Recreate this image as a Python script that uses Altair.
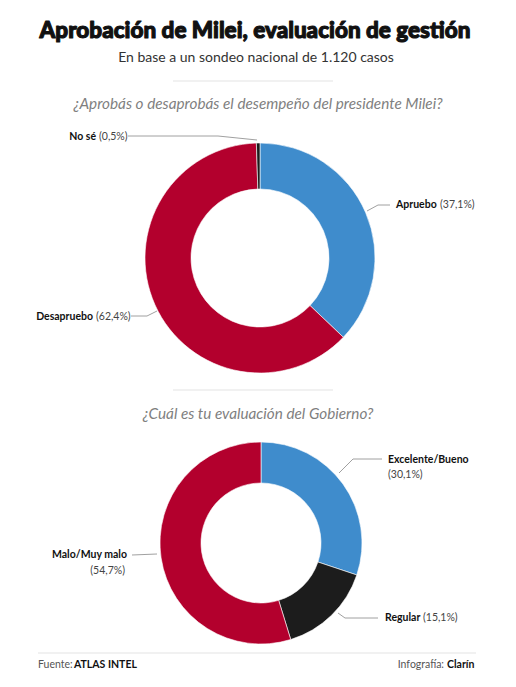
import altair as alt
import pandas as pd

# ---- data ----
cat1 = ["Apruebo", "Desapruebo", "No sé"]
val1 = [37.1, 62.4, 0.5]
cat2 = ["Excelente/Bueno", "Regular", "Malo/Muy malo"]
val2 = [30.1, 15.1, 54.7]

title = "Aprobación de Milei, evaluación de gestión"
subtitle = "En base a un sondeo nacional de 1.120 casos"
q1 = "¿Aprobás o desaprobás el desempeño del presidente Milei?"
q2 = "¿Cuál es tu evaluación del Gobierno?"
source_lbl = ["Fuente:", "ATLAS INTEL"]
credit_lbl = ["Infografía:", "Clarín"]

BLUE = "#3f8ccc"
RED = "#b3002d"
BLACK = "#1c1c1c"
FONT = "Lato"


def P(v):
    # page pixel -> view pixel (8px page margin, no padding)
    return v - 8


def pct(v):
    return f"({v:.1f}%)".replace(".", ",")


df1 = pd.DataFrame({"cat": cat1, "val": val1, "ord": range(len(cat1))})
df2 = pd.DataFrame({"cat": cat2, "val": val2, "ord": range(len(cat2))})

one = alt.Data(values=[{"a": 1}])


def txt(s, x, y, size=10.5, weight="normal", color="#222", align="left",
        style="normal", baseline="middle", font=FONT, **kw):
    return alt.Chart(one).mark_text(
        text=s, font=font, fontSize=size, fontWeight=weight, color=color,
        align=align, baseline=baseline, fontStyle=style, **kw
    ).encode(x=alt.value(P(x)), y=alt.value(P(y)))


def rule(x1, y1, x2, y2, color="#888", w=0.8):
    return alt.Chart(one).mark_rule(color=color, strokeWidth=w).encode(
        x=alt.value(P(x1)), y=alt.value(P(y1)),
        x2=alt.value(P(x2)), y2=alt.value(P(y2)))


donut1 = alt.Chart(df1).mark_arc(
    radius=115, innerRadius=69, stroke="white", strokeWidth=0.6
).encode(
    theta=alt.Theta("val:Q", stack=True),
    order=alt.Order("ord:Q"),
    color=alt.Color("cat:N", scale=alt.Scale(domain=cat1, range=[BLUE, RED, BLACK]), legend=None),
    x=alt.value(P(260)), y=alt.value(P(258)),
)

donut2 = alt.Chart(df2).mark_arc(
    radius=101, innerRadius=60, stroke="white", strokeWidth=0.6
).encode(
    theta=alt.Theta("val:Q", stack=True),
    order=alt.Order("ord:Q"),
    color=alt.Color("cat:N", scale=alt.Scale(domain=cat2, range=[BLUE, BLACK, RED]), legend=None),
    x=alt.value(P(261)), y=alt.value(P(543)),
)

layers = [
    txt(title, 255, 31, size=22.5, weight=900, color="#111", align="center",
        stroke="#111", strokeWidth=1.1, strokeJoin="round"),
    txt(subtitle, 256, 58, size=14, color="#333", align="center"),
    rule(173, 81, 333, 81, color="#e3e3e3", w=1),
    txt(q1, 258, 104, size=15.3, color="#7f7f7f", align="center", style="italic"),
    donut1,
    # labels donut 1
    txt(cat1[2], 96, 137, weight="bold", align="right", color="#111"),
    txt(pct(val1[2]), 99, 137, color="#444"),
    rule(128, 136, 218, 136), rule(218, 136, 257, 140),
    txt(cat1[0], 396, 205, weight="bold", color="#111"),
    txt(pct(val1[0]), 440, 205, color="#444"),
    rule(367, 211, 378, 205), rule(378, 205, 390, 205),
    txt(cat1[1], 93, 317, weight="bold", align="right", color="#111"),
    txt(pct(val1[1]), 96, 317, color="#444"),
    rule(131, 316, 147, 316), rule(147, 316, 157, 311),
    rule(173, 390, 333, 390, color="#e3e3e3", w=1),
    txt(q2, 258, 414, size=15.3, color="#7f7f7f", align="center", style="italic"),
    donut2,
    # labels donut 2
    txt(cat2[0], 388, 460, weight="bold", color="#111"),
    txt(pct(val2[0]), 388, 475, color="#444"),
    rule(339, 473, 353, 459), rule(353, 459, 382, 459),
    txt(cat2[2], 127, 555, weight="bold", align="right", color="#111"),
    txt(pct(val2[2]), 125, 571, align="right", color="#444"),
    rule(132, 555, 157, 554),
    txt(cat2[1], 385, 618, weight="bold", color="#111"),
    txt(pct(val2[1]), 423, 618, color="#444"),
    rule(338, 613, 345, 618), rule(345, 618, 378, 618),
    # footer
    rule(38, 653, 476, 653, color="#e3e3e3", w=1),
    txt(source_lbl[0], 38, 665, color="#555"),
    txt(source_lbl[1], 74, 665, weight="bold", color="#111"),
    txt(credit_lbl[0], 444, 665, align="right", color="#555"),
    txt(credit_lbl[1], 447, 665, weight="bold", color="#111"),
]

chart = alt.layer(*layers).resolve_scale(
    theta="independent", color="independent"
).properties(
    width=500, height=671, padding=0,
    autosize=alt.AutoSizeParams(type="none"),
    background="white",
).configure_view(stroke=None)

chart.save("out.html", embed_options={"renderer": "svg", "actions": False})
